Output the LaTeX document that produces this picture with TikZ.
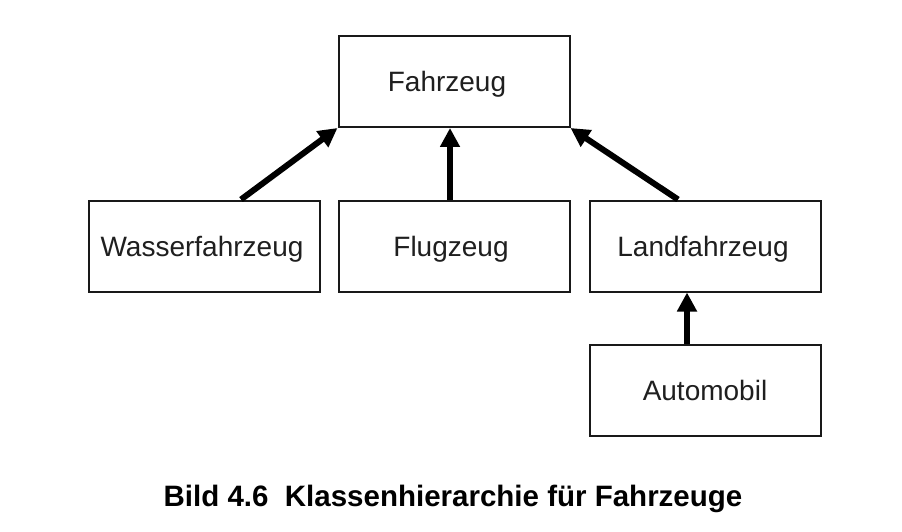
\documentclass[tikz,border=0pt]{standalone}
\usepackage{fontspec}
\setmainfont{Liberation Sans}
\usetikzlibrary{arrows.meta}
\begin{document}
\begin{tikzpicture}[x=1pt,y=-1pt,
  klasse/.style={draw=black!90, line width=2pt, fill=white, minimum width=231pt, minimum height=91pt, inner sep=0pt,
    text height=22pt, text depth=2pt,
    text=black!88, font=\fontsize{28}{32}\selectfont},
  vererb/.style={line width=6pt, draw=black, -{Triangle[length=19pt,width=19pt]}}]
\useasboundingbox (0,0) rectangle (902,532);
\fill[white] (0,0) rectangle (902,532);
\node[klasse] (fz) at (454,81.5) {Fahrzeug\hspace*{14pt}};
\node[klasse] (wf) at (204,246) {Wasserfahrzeug\hspace*{4pt}};
\node[klasse] (flz) at (454,246) {Flugzeug\hspace*{6pt}};
\node[klasse] (lf) at (705,246) {Landfahrzeug\hspace*{4pt}};
\node[klasse] (am) at (705,390) {Automobil};
\draw[vererb] ([xshift=37pt]wf.north) -- (fz.south west);
\draw[vererb] ([xshift=-4pt]flz.north) -- ([xshift=-4pt]fz.south);
\draw[vererb] ([xshift=-27pt]lf.north) -- (fz.south east);
\draw[vererb] ([xshift=-18pt]am.north) -- ([xshift=-18pt]lf.south);
\node[font=\bfseries\fontsize{29.5}{34}\selectfont, text=black, anchor=base] (cap) at (453,506) {Bild 4.6\ \ Klassenhierarchie für Fahrzeuge};
\end{tikzpicture}
\end{document}
